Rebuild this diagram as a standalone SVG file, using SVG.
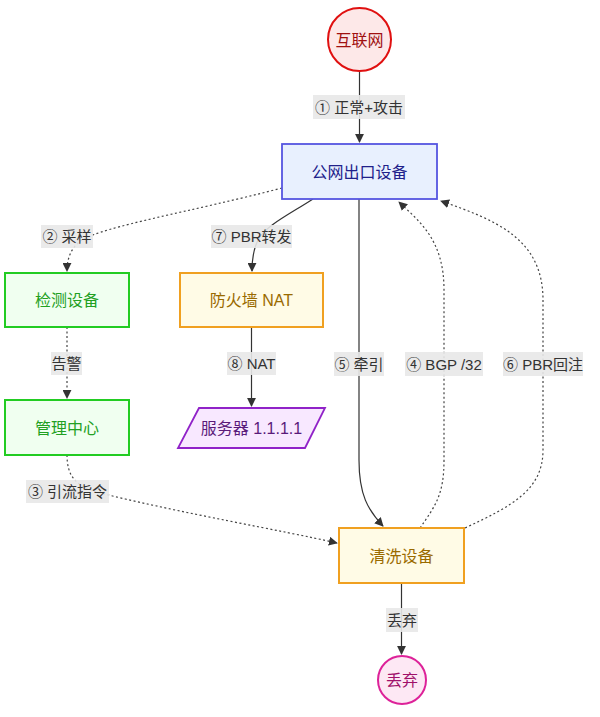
<svg xmlns="http://www.w3.org/2000/svg" width="600" height="717" viewBox="0 0 600 717">
<style>
text{font-family:"Liberation Sans","Noto Sans CJK SC",sans-serif;text-anchor:middle;dominant-baseline:central}
.e{fill:none;stroke:#333;stroke-width:1.2}
.d{fill:none;stroke:#444;stroke-width:1.2;stroke-dasharray:2 2.5}
.lb{fill:#e8e8e8;opacity:0.9}
.lt{font-size:15px;fill:#333}
.nt{font-size:16px}
</style>
<defs>
<marker id="ah" viewBox="0 0 10 10" refX="9" refY="5" markerWidth="9" markerHeight="9" markerUnits="userSpaceOnUse" orient="auto">
<path d="M0,0 L10,5 L0,10 z" fill="#333"/>
</marker>
</defs>
<rect width="600" height="717" fill="#fff"/>
<g id="edges">
<path class="e" d="M359.5,71 L359.5,142" marker-end="url(#ah)"/>
<path class="d" d="M282,188 C190,212 105,226 82,240 Q67,250 67,271" marker-end="url(#ah)"/>
<path class="e" d="M313,199 C290,214 265,226 258,240 Q252,252 252,271" marker-end="url(#ah)"/>
<path class="d" d="M67,327 L67,398" marker-end="url(#ah)"/>
<path class="e" d="M251.5,327 L251.5,406" marker-end="url(#ah)"/>
<path class="e" d="M359,199 L359,460 C359,495 368,510 383,526" marker-end="url(#ah)"/>
<path class="d" d="M420,528 C436,505 444,494 444,460 L444,290 C444,240 420,222 399,202" marker-end="url(#ah)"/>
<path class="d" d="M465,528 C512,506 543,490 543,450 L543,300 C543,238 495,220 441,201" marker-end="url(#ah)"/>
<path class="d" d="M67,455 C67,476 76,486 96,492 C185,514 280,530 337,543" marker-end="url(#ah)"/>
<path class="e" d="M401.5,583 L401.5,654" marker-end="url(#ah)"/>
<rect class="lb" x="313" y="95" width="92" height="24"/>
<text class="lt" x="359" y="107">① 正常+攻击</text>
<rect class="lb" x="41" y="225" width="52" height="23"/>
<text class="lt" x="67" y="236.5">② 采样</text>
<rect class="lb" x="211" y="225" width="81" height="23"/>
<text class="lt" x="251.5" y="236.5">⑦ PBR转发</text>
<rect class="lb" x="51" y="352" width="31" height="23"/>
<text class="lt" x="66.5" y="363.5">告警</text>
<rect class="lb" x="227" y="352" width="49" height="23"/>
<text class="lt" x="251.5" y="363.5">⑧ NAT</text>
<rect class="lb" x="334" y="352" width="50" height="24"/>
<text class="lt" x="359" y="364">⑤ 牵引</text>
<rect class="lb" x="405" y="352" width="78" height="24"/>
<text class="lt" x="444" y="364">④ BGP /32</text>
<rect class="lb" x="503" y="352" width="80" height="24"/>
<text class="lt" x="543" y="364">⑥ PBR回注</text>
<rect class="lb" x="26" y="480" width="83" height="23"/>
<text class="lt" x="67.5" y="491.5">③ 引流指令</text>
<rect class="lb" x="386" y="608" width="32" height="24"/>
<text class="lt" x="402" y="620">丢弃</text>
</g>
<g id="internet">
<circle cx="359.5" cy="39.5" r="31.5" fill="#fde8e8" stroke="#e01010" stroke-width="2"/>
<text class="nt" x="359.5" y="40" fill="#a01010">互联网</text>
</g>
<g id="edge-router">
<rect x="282" y="144" width="155" height="55" fill="#e8f0fe" stroke="#5555e0" stroke-width="1.8"/>
<text class="nt" x="359.5" y="172" fill="#20208a">公网出口设备</text>
</g>
<g id="detector">
<rect x="5" y="273" width="124" height="54" fill="#f0fff0" stroke="#22cc22" stroke-width="2"/>
<text class="nt" x="67" y="300" fill="#22a022">检测设备</text>
</g>
<g id="firewall">
<rect x="180" y="273" width="143" height="54" fill="#fffbe6" stroke="#f0a020" stroke-width="2"/>
<text class="nt" x="251.5" y="300" fill="#9a6a00">防火墙 NAT</text>
</g>
<g id="mgmt">
<rect x="5" y="400" width="124" height="55" fill="#f0fff0" stroke="#22cc22" stroke-width="2"/>
<text class="nt" x="67" y="428" fill="#22a022">管理中心</text>
</g>
<g id="server">
<polygon points="199,408 325,408 305,448 178,448" fill="#f8e8ff" stroke="#9022c8" stroke-width="1.8"/>
<text class="nt" x="251.5" y="428" fill="#5a1a7a">服务器 1.1.1.1</text>
</g>
<g id="scrubber">
<rect x="339" y="528" width="125" height="55" fill="#fffbe6" stroke="#f0a020" stroke-width="2"/>
<text class="nt" x="401.5" y="556" fill="#9a6a00">清洗设备</text>
</g>
<g id="drop">
<circle cx="402" cy="680" r="24" fill="#fde8f4" stroke="#dd2299" stroke-width="2"/>
<text class="nt" x="402" y="680.5" fill="#a0106a">丢弃</text>
</g>
</svg>
